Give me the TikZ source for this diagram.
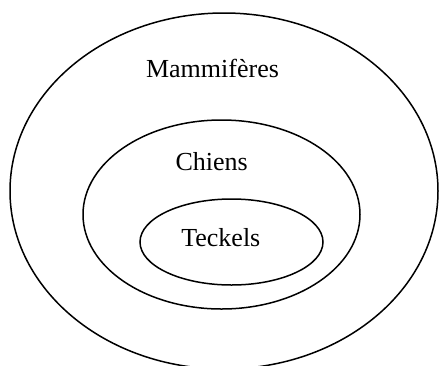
\documentclass[tikz,border=0pt]{standalone}
\usepackage{fontspec}
\setmainfont{Liberation Serif}
\usetikzlibrary{shapes.geometric}
\begin{document}
\begin{tikzpicture}[x=1pt,y=-1pt]
\tikzstyle{st} = [ellipse,draw=black,line width=1.5pt,inner sep=0pt] %set
\tikzstyle{lb} = [font=\fontsize{26}{30}\selectfont,inner sep=0pt] %label
\useasboundingbox (0,0) rectangle (439,365);
\clip (0,0) rectangle (439,365);
\node[st,minimum width=428pt,minimum height=356pt](smam)at(224,191){};
\node[st,minimum width=277pt,minimum height=189pt](schi)at(221.5,214.5){};
\node[st,minimum width=183pt,minimum height=86pt](stec)at(231.5,242){};
\node[lb](lmam)at(212.5,68){Mammifères};
\node[lb](lchi)at(211.7,162){Chiens};
\node[lb](ltec)at(220.8,238){Teckels};
\end{tikzpicture}
\end{document}
